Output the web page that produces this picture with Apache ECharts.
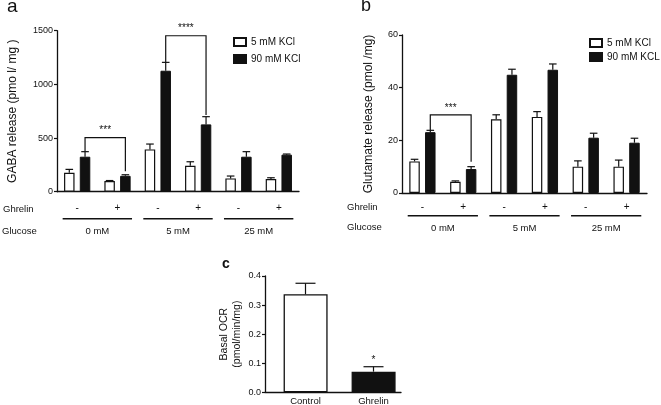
<!DOCTYPE html>
<html>
<head>
<meta charset="utf-8">
<script src="https://cdn.jsdelivr.net/npm/echarts@6/dist/echarts.min.js"></script>
<style>
  html, body { margin: 0; padding: 0; background: #fff; }
  #chart { width: 661px; height: 405px; }
</style>
</head>
<body>
<div id="chart"></div>
<script>
// ghrelin -/+ under each pair, glucose groups below
const ghrelinSigns = ['-', '+', '-', '+', '-', '+'];
const glucoseLevels = ['0 mM', '5 mM', '25 mM'];

// a: GABA release (pmol/mg)
const gabaTicks = [0, 500, 1000, 1500];
const gabaLowKcl = [177, 100, 394, 242, 124, 118];
const gabaLowSem = [31, 4, 50, 37, 22, 12];
const gabaHighKcl = [326, 148, 1127, 627, 326, 345];
const gabaHighSem = [47, 10, 78, 72, 47, 6];
// [from pair, to pair, bracket top, left leg end, right leg end]
const gabaBrackets = [[0, 1, 503, 373, 190], [2, 3, 1453, 1205, 714]];
const gabaStars = ['***', '****'];

// b: glutamate release (pmol/mg)
const glutTicks = [0, 20, 40, 60];
const glutLowKcl = [12, 4.3, 28, 28.9, 10, 10];
const glutLowSem = [0.8, 0.3, 1.7, 2, 2.2, 2.5];
const glutHighKcl = [23.1, 9.1, 44.9, 46.8, 21, 19.1];
const glutHighSem = [0.7, 0.9, 2.1, 2.2, 1.7, 1.7];
const glutBrackets = [[0, 1, 29.7, 23.8, 11.9]];
const glutStars = ['***'];

// c: basal OCR
const ocrTicks = [0, 0.1, 0.2, 0.3, 0.4];
const ocrGroups = ['Control', 'Ghrelin'];
const ocrMean = [0.337, 0.071];
const ocrSem = [0.038, 0.017];
const ocrStars = ['', '*'];

const FONT = 'Liberation Sans, Arial, sans-serif';
const INK = '#111';
const BAR_W = 10.5;
const PAIR_OFF = BAR_W * 1.5 / 2;   // half of bar + 50% gap
const C_SHIFT = 6.5;                // panel c bars sit right of category centre

function yAxisOf(gi, ticks, name, nameGap, digits) {
  return {
    type: 'value', gridIndex: gi,
    min: ticks[0], max: ticks[ticks.length - 1], interval: ticks[1] - ticks[0],
    name: name, nameLocation: 'middle', nameRotate: 90, nameGap: nameGap,
    nameTextStyle: { fontFamily: FONT, fontSize: 12, color: INK, lineHeight: 13 },
    axisLine: { show: true, lineStyle: { color: INK, width: 1.3 } },
    axisTick: { show: true, length: 3, lineStyle: { color: INK, width: 1.2 } },
    axisLabel: { fontFamily: FONT, fontSize: 9, color: INK, margin: 4,
      formatter: v => v.toFixed(digits) },
    splitLine: { show: false }
  };
}

function signAxis(gi, margin) {
  return {
    type: 'category', gridIndex: gi, position: 'bottom', data: ghrelinSigns,
    axisLine: { show: true, lineStyle: { color: INK, width: 1.3 } },
    axisTick: { show: false },
    axisLabel: { fontFamily: FONT, fontSize: 10, color: INK, margin: margin }
  };
}

function glucoseAxis(gi, margin) {
  return {
    type: 'category', gridIndex: gi, position: 'bottom', data: glucoseLevels,
    axisLine: { show: false }, axisTick: { show: false },
    axisLabel: { fontFamily: FONT, fontSize: 9.5, color: INK, margin: margin }
  };
}

function errData(means, sems, side) {
  return means.map((m, i) => [i, side, m, m + sems[i]]);
}

function errRender(off, capHalf, stars) {
  return function (params, api) {
    const base = api.coord([api.value(0), api.value(2)]);
    const top = api.coord([api.value(0), api.value(3)]);
    const x = base[0] + (api.value(1) === 0 ? -off : off);
    const kids = [
      { type: 'line', shape: { x1: x, y1: base[1], x2: x, y2: top[1] },
        style: { stroke: INK, lineWidth: 1.2 } },
      { type: 'line', shape: { x1: x - capHalf, y1: top[1], x2: x + capHalf, y2: top[1] },
        style: { stroke: INK, lineWidth: 1.2 } }
    ];
    if (stars && stars[params.dataIndex]) {
      kids.push({ type: 'text', style: { text: stars[params.dataIndex], x: x, y: top[1] - 1,
        fill: INK, font: '10px ' + FONT, align: 'center', verticalAlign: 'bottom' } });
    }
    return { type: 'group', children: kids };
  };
}

function bracketRender(stars) {
  return function (params, api) {
    const yTop = api.coord([0, api.value(2)])[1];
    const xL = api.coord([api.value(0), 0])[0] + PAIR_OFF;
    const xR = api.coord([api.value(1), 0])[0] + PAIR_OFF;
    const yL = api.coord([0, api.value(3)])[1];
    const yR = api.coord([0, api.value(4)])[1];
    return { type: 'group', children: [
      { type: 'polyline', shape: { points: [[xL, yL], [xL, yTop], [xR, yTop], [xR, yR]] },
        style: { stroke: INK, lineWidth: 1.2, fill: null } },
      { type: 'text', style: { text: stars[params.dataIndex], x: (xL + xR) / 2, y: yTop - 2,
        fill: INK, font: '10px ' + FONT, align: 'center', verticalAlign: 'bottom' } }
    ] };
  };
}

function underlineRender(drop) {
  return function (params, api) {
    const p = api.coord([api.value(0), 0]);
    const w = api.size([1, 0])[0];
    return { type: 'line', shape: { x1: p[0] - 0.43 * w, y1: p[1] + drop, x2: p[0] + 0.43 * w, y2: p[1] + drop },
      style: { stroke: INK, lineWidth: 1.4 } };
  };
}

function pairSeries(xi, yi, lowName, highName, low, high, lowSem, highSem, brackets, stars, drop) {
  return [
    { type: 'bar', name: lowName, xAxisIndex: xi, yAxisIndex: yi, data: low, barWidth: BAR_W, barGap: '50%',
      itemStyle: { color: '#fff', borderColor: INK, borderWidth: 1.2 }, silent: true },
    { type: 'bar', name: highName, xAxisIndex: xi, yAxisIndex: yi, data: high, barWidth: BAR_W, barGap: '50%',
      itemStyle: { color: INK, borderColor: INK, borderWidth: 1 }, silent: true },
    { type: 'custom', xAxisIndex: xi, yAxisIndex: yi, clip: false, silent: true,
      data: errData(low, lowSem, 0).concat(errData(high, highSem, 1)),
      encode: { x: 0, y: 3 }, renderItem: errRender(PAIR_OFF, 3.8) },
    { type: 'custom', xAxisIndex: xi, yAxisIndex: yi, clip: false, silent: true,
      data: brackets, encode: { x: 0, y: 2 }, renderItem: bracketRender(stars) },
    { type: 'custom', xAxisIndex: xi + 1, yAxisIndex: yi, clip: false, silent: true,
      data: glucoseLevels.map((g, i) => [i, 0]), encode: { x: 0, y: 1 },
      renderItem: underlineRender(drop) }
  ];
}

function txt(text, x, y, size, weight) {
  return { type: 'text', left: x, top: y,
    style: { text: text, fill: INK, font: (weight || 'normal') + ' ' + size + 'px ' + FONT } };
}

const chart = echarts.init(document.getElementById('chart'), null, { renderer: 'canvas' });
chart.setOption({
  animation: false,
  backgroundColor: '#fff',
  textStyle: { fontFamily: FONT },
  grid: [
    { left: 57, top: 30.7, width: 242, height: 161, outerBoundsMode: 'none' },
    { left: 402, top: 35, width: 245, height: 158, outerBoundsMode: 'none' },
    { left: 265, top: 276, width: 136, height: 116.3, outerBoundsMode: 'none' }
  ],
  xAxis: [
    signAxis(0, 12), glucoseAxis(0, 35),
    signAxis(1, 9), glucoseAxis(1, 30),
    { type: 'category', gridIndex: 2, data: ocrGroups,
      axisLine: { show: true, lineStyle: { color: INK, width: 1.3 } },
      axisTick: { show: false },
      axisLabel: { fontFamily: FONT, fontSize: 9.5, color: INK, margin: 4,
        formatter: v => v, padding: [0, 0, 0, 2 * C_SHIFT] } }
  ],
  yAxis: [
    yAxisOf(0, gabaTicks, 'GABA release (pmo l/ mg )', 38, 0),
    yAxisOf(1, glutTicks, 'Glutamate release (pmol /mg)', 27, 0),
    Object.assign(yAxisOf(2, ocrTicks, 'Basal OCR\n(pmol/min/mg)', 21, 1),
      { nameTextStyle: { fontFamily: FONT, fontSize: 10.5, color: INK, lineHeight: 13 } })
  ],
  legend: [
    { data: ['5 mM KCl', '90 mM KCl'], orient: 'vertical', left: 233, top: 37, icon: 'rect', padding: 0,
      itemWidth: 12, itemHeight: 8, itemGap: 7, selectedMode: false,
      textStyle: { fontFamily: FONT, fontSize: 10, color: INK } },
    { data: ['5 mM KCl', '90 mM KCL'], orient: 'vertical', left: 589, top: 38, icon: 'rect', padding: 0,
      itemWidth: 12, itemHeight: 8, itemGap: 4, selectedMode: false,
      textStyle: { fontFamily: FONT, fontSize: 10, color: INK } }
  ],
  graphic: [
    txt('a', 7, -3, 19), txt('b', 361, -3, 18), txt('c', 222, 257, 14, 'bold'),
    txt('Ghrelin', 3, 204, 9.5), txt('Glucose', 2, 226.5, 9.5),
    txt('Ghrelin', 347, 202, 9.5), txt('Glucose', 347, 222.5, 9.5)
  ],
  series: [].concat(
    pairSeries(0, 0, '5 mM KCl', '90 mM KCl', gabaLowKcl, gabaHighKcl, gabaLowSem, gabaHighSem,
      gabaBrackets, gabaStars, 27),
    pairSeries(2, 1, '5 mM KCl', '90 mM KCL', glutLowKcl, glutHighKcl, glutLowSem, glutHighSem,
      glutBrackets, glutStars, 22.7),
    [
      { type: 'bar', xAxisIndex: 4, yAxisIndex: 2, data: ocrMean.map(() => 0), barWidth: 44, barGap: '-70%',
        itemStyle: { color: 'transparent', borderWidth: 0 }, silent: true },
      { type: 'bar', xAxisIndex: 4, yAxisIndex: 2, barWidth: 44, barGap: '-70%', silent: true,
        data: ocrMean.map((v, i) => ({ value: v,
          itemStyle: { color: i === 0 ? '#fff' : INK, borderColor: INK, borderWidth: 1.3 } })) },
      { type: 'custom', xAxisIndex: 4, yAxisIndex: 2, clip: false, silent: true,
        data: errData(ocrMean, ocrSem, 1), encode: { x: 0, y: 3 },
        renderItem: errRender(C_SHIFT, 10, ocrStars) }
    ]
  )
});
</script>
</body>
</html>
